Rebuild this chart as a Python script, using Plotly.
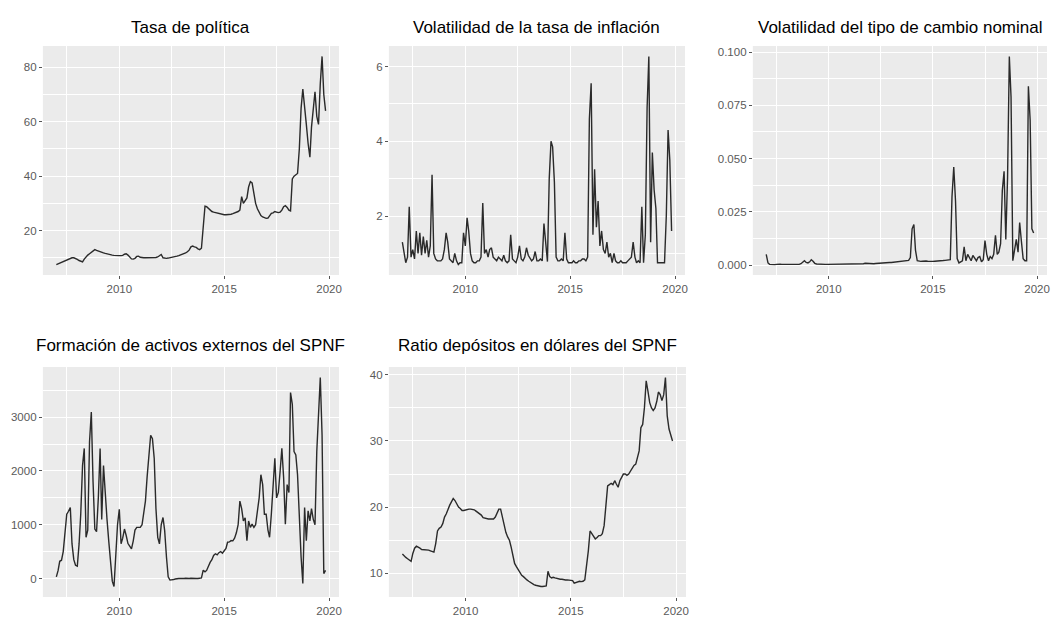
import plotly.graph_objects as go
import pandas as pd

# ---------------- data (monthly, Jan 2007 - Nov 2019) ----------------
months = pd.date_range("2007-01-01", "2019-11-01", freq="MS")

tasa_politica = [
    7.5, 7.8, 8.0, 8.3, 8.6, 8.9, 9.2, 9.5, 9.8, 10.0, 10.0, 9.8,
    9.4, 9.0, 8.7, 8.5, 9.5, 10.5, 11.0, 11.5, 12.0, 12.8, 13.0, 12.7,
    12.4, 12.2, 12.0, 11.8, 11.6, 11.4, 11.2, 11.0, 11.0, 10.9, 10.8, 10.8,
    10.8, 10.8, 10.9, 11.3, 11.5, 11.0, 10.2, 9.6, 9.5, 9.8, 10.5, 10.6,
    10.2, 10.0, 10.0, 10.0, 10.0, 10.0, 10.0, 10.0, 10.0, 10.1, 10.3, 10.6,
    11.2, 10.0, 9.8, 9.8, 9.9, 10.0, 10.1, 10.2, 10.4, 10.6, 10.8, 11.0,
    11.2, 11.5, 11.8, 12.2, 12.8, 14.0, 14.3, 14.0, 13.8, 13.3, 13.0, 13.5,
    22.0, 29.0, 28.8, 28.2, 27.5, 27.0, 26.8, 26.6, 26.6, 26.4, 26.2, 26.0,
    25.8, 25.8, 25.8, 25.9, 26.0, 26.2, 26.4, 26.6, 27.0, 27.5, 32.5, 30.0,
    31.0, 32.0, 36.0, 38.0, 37.5, 33.0, 30.0, 28.0, 26.5, 25.5, 25.0, 24.8,
    24.5, 24.6, 25.5, 26.3, 26.5, 27.0, 26.8, 26.6, 26.8, 27.5, 28.8, 29.2,
    28.5, 27.5, 27.2, 39.0, 40.0, 40.5, 41.0, 50.0, 65.0, 72.0, 64.0, 59.0,
    52.0, 47.0, 58.0, 66.0, 71.0, 62.0, 59.0, 74.0, 84.0, 70.0, 64.0,
]

vol_inflacion = [
    1.3, 1.0, 0.75, 0.9, 2.25, 0.9, 1.1, 0.85, 1.6, 1.0, 1.55, 0.95,
    1.45, 1.0, 1.35, 0.9, 1.2, 3.1, 1.0, 0.85, 0.8, 0.8, 0.8, 0.85,
    1.1, 1.55, 1.3, 0.85, 0.8, 0.75, 1.0, 0.8, 0.7, 0.75, 0.75, 1.55,
    1.2, 1.95, 1.6, 1.0, 0.8, 0.75, 0.75, 0.8, 0.8, 0.9, 2.35, 1.0,
    1.1, 0.9, 1.1, 1.15, 0.9, 0.85, 0.8, 0.9, 0.85, 0.8, 0.95, 0.8,
    0.75, 0.8, 1.5, 0.85, 0.8, 0.75, 0.9, 1.2, 0.85, 0.8, 0.9, 1.15,
    0.95, 0.85, 0.8, 0.85, 1.05, 0.8, 0.8, 0.85, 0.8, 1.8, 1.3, 0.78,
    3.0, 4.0, 3.85, 2.9, 0.9, 0.8, 0.8, 0.85, 0.8, 1.55, 0.85, 0.75,
    0.75, 0.75, 0.8, 0.75, 0.75, 0.8, 0.8, 0.85, 0.85, 0.8, 0.9, 4.6,
    5.55, 1.5, 3.25, 1.7, 2.4, 1.2, 1.6, 1.1, 1.0, 1.3, 0.9, 1.0,
    0.75, 1.0, 0.8, 0.75, 0.75, 0.8, 0.75, 0.75, 0.75, 0.8, 0.85, 0.9,
    1.3, 0.9, 0.75, 0.8, 0.75, 2.25, 0.75, 1.5, 4.9, 6.27, 1.3, 3.7,
    2.7, 2.2, 0.75, 0.75, 0.75, 0.75, 0.75, 2.0, 4.3, 3.5, 1.6,
]

vol_tipo_cambio = [
    0.005, 0.001, 0.0003, 0.0002, 0.0002, 0.0002, 0.0003, 0.0005, 0.0004, 0.0003, 0.0003, 0.0002,
    0.0002, 0.0002, 0.0003, 0.0005, 0.0004, 0.0003, 0.0002, 0.0003, 0.0006, 0.0015, 0.002, 0.0012,
    0.001, 0.0015, 0.0025, 0.0018, 0.0008, 0.0005, 0.0004, 0.0003, 0.0003, 0.0003, 0.0003, 0.0003,
    0.0003, 0.0004, 0.0003, 0.0003, 0.0005, 0.0004, 0.0003, 0.0003, 0.0003, 0.0003, 0.0003, 0.0003,
    0.0003, 0.0003, 0.0004, 0.0004, 0.0003, 0.0003, 0.0004, 0.0005, 0.0006, 0.0008, 0.0007, 0.0006,
    0.0006, 0.0005, 0.0006, 0.0007, 0.0008, 0.0008, 0.0009, 0.0009, 0.001, 0.001, 0.0011, 0.0012,
    0.0012, 0.0013, 0.0013, 0.0014, 0.0015, 0.0015, 0.0016, 0.0017, 0.0018, 0.002, 0.0022, 0.0035,
    0.017, 0.019, 0.007, 0.002, 0.0018, 0.0017, 0.0018, 0.002, 0.0019, 0.0018, 0.0017, 0.0017,
    0.0017, 0.0018, 0.0018, 0.0019, 0.002, 0.002, 0.0021, 0.0022, 0.0023, 0.0024, 0.0025, 0.032,
    0.046, 0.03, 0.003, 0.001, 0.0015, 0.002, 0.0085, 0.002, 0.005, 0.0035, 0.002, 0.0045,
    0.003, 0.002, 0.0035, 0.004, 0.0015, 0.0025, 0.0115, 0.005, 0.002, 0.004, 0.003, 0.005,
    0.014, 0.005, 0.006, 0.010, 0.035, 0.044, 0.012, 0.041, 0.098, 0.079, 0.002, 0.008,
    0.012, 0.006, 0.020, 0.011, 0.003, 0.002, 0.002, 0.084, 0.068, 0.017, 0.015,
]

activos_externos = [
    30, 150, 320, 340, 500, 800, 1195, 1250, 1320, 643, 350, 246,
    230, 643, 1200, 2100, 2420, 766, 900, 2550, 3095, 1800, 920, 870,
    1500, 2420, 1100, 2100, 1500, 1100, 700, 300, -50, -150, 400, 1000,
    1287, 646, 750, 920, 800, 650, 600, 551, 700, 900, 950, 950,
    950, 1000, 1200, 1440, 1900, 2300, 2665, 2600, 2235, 1300, 766, 643,
    1000, 1134, 890, 400, 30, -30, -30, -20, -10, 0, 0, 0,
    -5, 0, 5, 0, 0, 5, 0, 0, 0, 0, 0, 10,
    154, 123, 150, 245, 300, 350, 430, 460, 440, 480, 500, 470,
    520, 560, 675, 680, 705, 700, 750, 850, 1000, 1440, 1300, 1070,
    1130, 705, 1070, 950, 1010, 950, 1000, 1300, 1500, 1930, 1746, 1195,
    1195, 900, 766, 1200, 1700, 2236, 1500, 1600, 2000, 2420, 1870, 1010,
    1746, 1600, 3460, 3240, 2360, 2300, 1930, 1000, 400, -92, 1320, 705,
    1260, 1070, 1300, 1100, 1000, 2360, 2970, 3740, 2665, 92, 150,
]

ratio_depositos = [
    12.9, 12.6, 12.4, 12.2, 12.0, 11.8, 13.0, 13.8, 14.1, 14.0, 13.8, 13.6,
    13.6, 13.6, 13.5, 13.5, 13.4, 13.3, 13.2, 14.5, 16.4, 16.8, 17.0, 17.5,
    18.5, 19.0, 19.8, 20.3, 20.8, 21.3, 21.0, 20.5, 20.0, 19.8, 19.5, 19.5,
    19.6, 19.6, 19.7, 19.7, 19.7, 19.6, 19.4, 19.2, 19.0, 18.8, 18.4, 18.3,
    18.2, 18.2, 18.2, 18.2, 18.2, 18.5, 19.2, 19.7, 19.7, 18.5, 17.0, 16.2,
    15.5, 15.0, 14.0, 12.5, 11.5, 11.0, 10.5, 10.1, 9.7, 9.5, 9.2, 9.0,
    8.8, 8.6, 8.4, 8.3, 8.2, 8.1, 8.1, 8.0, 8.0, 8.1, 8.1, 10.3,
    9.5, 9.3, 9.4, 9.3, 9.2, 9.2, 9.1, 9.1, 9.0, 9.0, 9.0, 9.0,
    9.0, 8.9, 8.5, 8.6, 8.7, 8.8, 8.75, 8.8, 9.0, 11.0, 13.4, 16.4,
    16.0, 15.4, 15.2, 15.4, 15.7, 15.7, 16.0, 17.2, 20.5, 23.2, 23.4, 23.6,
    23.4, 24.0, 23.5, 23.0, 24.0, 24.5, 25.0, 25.0, 24.8, 25.0, 25.5, 25.8,
    26.3, 26.5, 27.3, 28.5, 32.0, 32.5, 35.0, 39.1, 37.5, 35.8, 35.0, 34.6,
    35.0, 36.0, 37.4, 37.0, 36.1, 37.0, 39.6, 33.8, 31.8, 30.8, 30.0,
]

titles = [
    "Tasa de política",
    "Volatilidad de la tasa de inflación",
    "Volatilidad del tipo de cambio nominal",
    "Formación de activos externos del SPNF",
    "Ratio depósitos en dólares del SPNF",
]
x_tick_labels = ["2010", "2015", "2020"]
y_ticks = [
    [20, 40, 60, 80],
    [2, 4, 6],
    [0.0, 0.025, 0.05, 0.075, 0.1],
    [0, 1000, 2000, 3000],
    [10, 20, 30, 40],
]
y_tick_labels = [
    ["20", "40", "60", "80"],
    ["2", "4", "6"],
    ["0.000", "0.025", "0.050", "0.075", "0.100"],
    ["0", "1000", "2000", "3000"],
    ["10", "20", "30", "40"],
]
series = [tasa_politica, vol_inflacion, vol_tipo_cambio, activos_externos, ratio_depositos]

# ---------------- layout (pixel boxes of each panel) ----------------
W, H = 1053, 621
boxes = [
    (43, 340, 46, 275),
    (390, 687, 46, 275),
    (755, 1050, 46, 275),
    (43, 340, 367, 597),
    (390, 688, 367, 597),
]
title_y = [28, 28, 28, 345, 345]

for s in series:
    assert len(s) == len(months), len(s)

fig = go.Figure()

span = months[-1] - months[0]
x_range = [months[0] - 0.05 * span, months[-1] + 0.05 * span]
x_major = [pd.Timestamp(f"{y}-01-01") for y in x_tick_labels]
x_minor = [pd.Timestamp("2007-07-02"), pd.Timestamp("2012-07-02"), pd.Timestamp("2017-07-02")]

tick_font = dict(family="Liberation Sans, Arial, sans-serif", size=11.5, color="#5a5a5a")

annotations = []
for i, (vals, box, yt, ytl, ttl, ty) in enumerate(
        zip(series, boxes, y_ticks, y_tick_labels, titles, title_y), start=1):
    x0, x1, ytop, ybot = box
    fig.add_trace(go.Scatter(
        x=months, y=vals, mode="lines",
        line=dict(color="#2a2a2a", width=1.4),
        xaxis=f"x{i}", yaxis=f"y{i}", showlegend=False,
        hoverinfo="x+y",
    ))
    lo, hi = min(vals), max(vals)
    pad = 0.05 * (hi - lo)
    step = yt[1] - yt[0]
    y_minor = [yt[0] - step / 2] + [v + step / 2 for v in yt]
    fig.layout[f"xaxis{i}"] = dict(
        domain=[x0 / W, x1 / W], anchor=f"y{i}", type="date",
        range=x_range, tickmode="array", tickvals=x_major, ticktext=x_tick_labels,
        showgrid=True, gridcolor="white", gridwidth=1.1, zeroline=False,
        ticks="outside", ticklen=3, tickwidth=1, tickcolor="#555555",
        tickfont=tick_font,
        minor=dict(tickmode="array", tickvals=x_minor, showgrid=True,
                   gridcolor="white", gridwidth=0.5, ticks=""),
        showline=False, fixedrange=True,
    )
    fig.layout[f"yaxis{i}"] = dict(
        domain=[1 - ybot / H, 1 - ytop / H], anchor=f"x{i}",
        range=[lo - pad, hi + pad], tickmode="array", tickvals=yt, ticktext=ytl,
        showgrid=True, gridcolor="white", gridwidth=1.1, zeroline=False,
        ticks="outside", ticklen=3, tickwidth=1, tickcolor="#555555",
        tickfont=tick_font,
        minor=dict(tickmode="array", tickvals=y_minor, showgrid=True,
                   gridcolor="white", gridwidth=0.5, ticks=""),
        showline=False, fixedrange=True,
    )
    annotations.append(dict(
        text=ttl, xref="paper", yref="paper",
        x=(x0 + x1) / 2 / W, y=1 - ty / H, xanchor="center", yanchor="middle",
        showarrow=False,
        font=dict(family="Liberation Sans, Arial, sans-serif", size=17, color="#000000"),
    ))

fig.update_layout(
    width=W, height=H,
    margin=dict(l=0, r=0, t=0, b=0),
    paper_bgcolor="white", plot_bgcolor="#EBEBEB",
    annotations=annotations,
    showlegend=False,
)

fig.write_html("out.html", config={"displayModeBar": False},
               post_script="document.body.style.margin='0px';")
